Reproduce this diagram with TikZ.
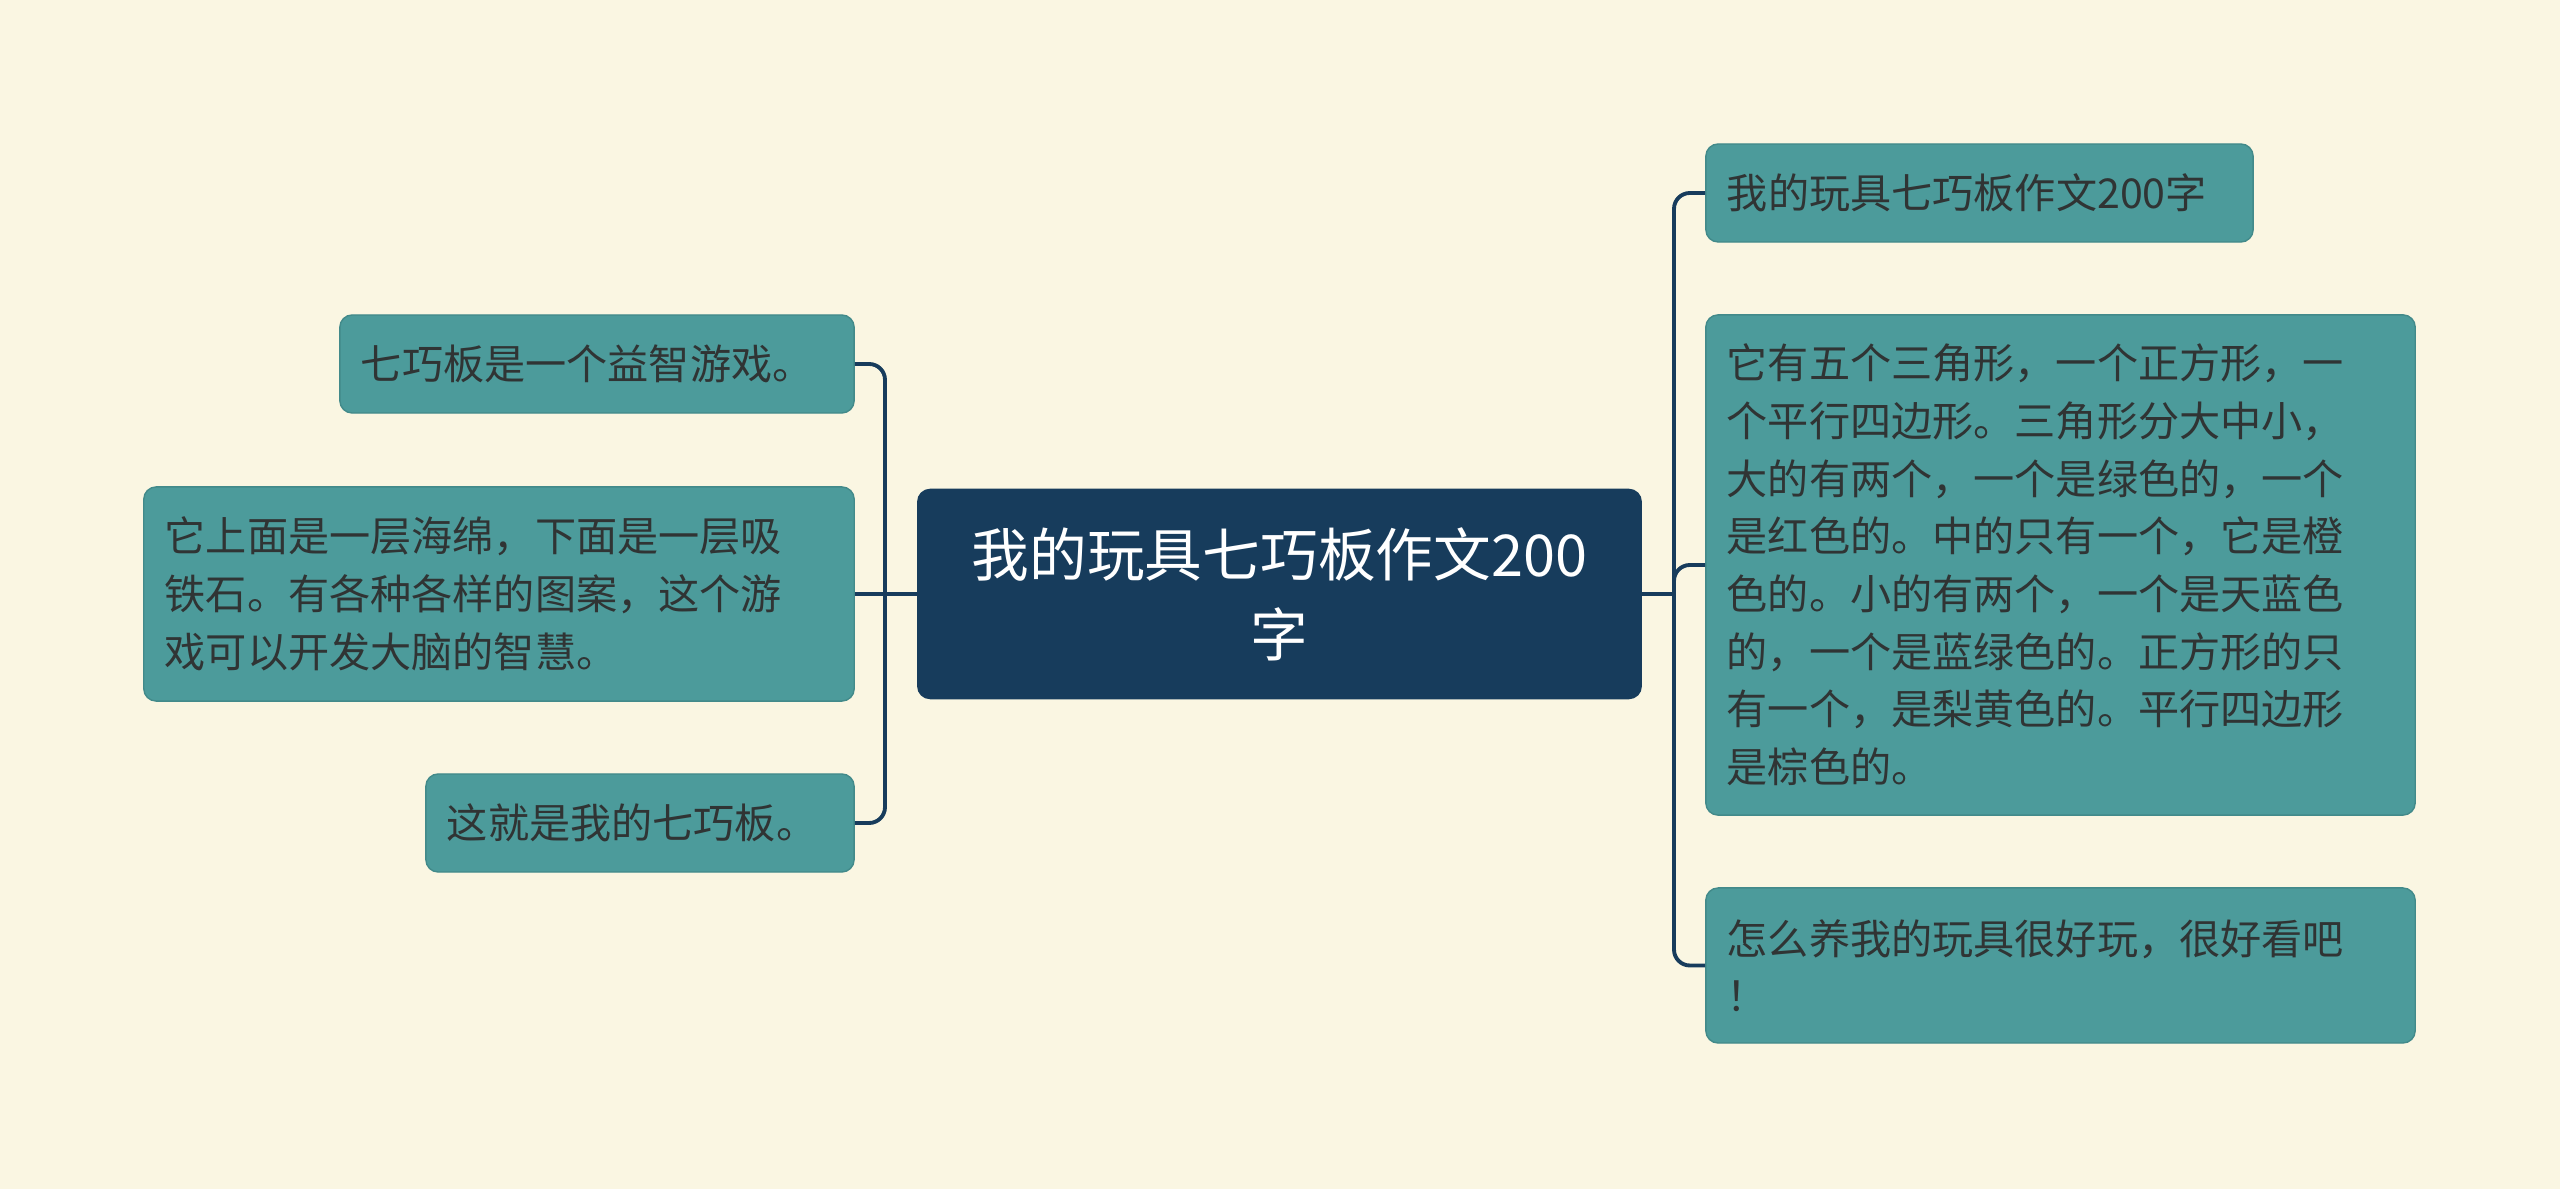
\documentclass[tikz,border=0pt]{standalone}
\usepackage{fontspec}
\newfontfamily\cjk{Noto Sans CJK SC}
\definecolor{bg}{RGB}{250,246,226}
\definecolor{tc}{RGB}{76,155,155}
\definecolor{tb}{RGB}{66,138,138}
\definecolor{nc}{RGB}{23,60,92}
\definecolor{txt}{RGB}{48,52,52}
\tikzset{t/.style={draw=tb,fill=tc,text=txt,rounded corners=3.5pt,inner xsep=0.21cm,inner ysep=0pt,align=left,
  font=\cjk\fontsize{11.7pt}{16.4pt}\selectfont},
 root/.style={draw=nc,fill=nc,text=white,rounded corners=3.5pt,align=center,minimum width=7.23cm,minimum height=2.09cm,
  font=\cjk\fontsize{16.4pt}{22.8pt}\selectfont},
 wire/.style={draw=nc,line width=1.1pt,rounded corners=4.5pt}}
\begin{document}
\begin{tikzpicture}[x=0.01cm,y=-0.01cm]
\fill[bg] (0,0) rectangle (2560,1189);\useasboundingbox (0,0) rectangle (2560,1189);
\node[root] (c) at (1279.5,594) {我的玩具七巧板作文200\\字};
% left side
\node[t,text width=4.72cm,minimum height=0.98cm] (l1) at (597,364) {七巧板是一个益智游戏。};
\node[t,text width=6.68cm,minimum height=2.14cm] (l2) at (499,594) {它上面是一层海绵，下面是一层吸\\铁石。有各种各样的图案，这个游\\戏可以开发大脑的智慧。};
\node[t,text width=3.86cm,minimum height=0.98cm] (l3) at (640,823) {这就是我的七巧板。};
% right side
\node[t,text width=5.05cm,minimum height=0.98cm] (r1) at (1979.5,193) {我的玩具七巧板作文200字};
\node[t,text width=6.67cm,minimum height=5.00cm] (r2) at (2060.5,565) {它有五个三角形，一个正方形，一\\个平行四边形。三角形分大中小，\\大的有两个，一个是绿色的，一个\\是红色的。中的只有一个，它是橙\\色的。小的有两个，一个是天蓝色\\的，一个是蓝绿色的。正方形的只\\有一个，是梨黄色的。平行四边形\\是棕色的。};
\node[t,text width=6.67cm,minimum height=1.55cm] (r3) at (2060.5,965.5) {怎么养我的玩具很好玩，很好看吧\\！};
\coordinate (lb) at (885,594);\coordinate (rb) at (1674,594);
\draw[wire] (c.west)--(l2.east);\draw[wire] (c.east)--(rb);
\foreach \n in {l1,l3}{\draw[wire] (lb) |- (\n.east);}
\foreach \n in {r1,r2,r3}{\draw[wire] (rb) |- (\n.west);}
\end{tikzpicture}
\end{document}
